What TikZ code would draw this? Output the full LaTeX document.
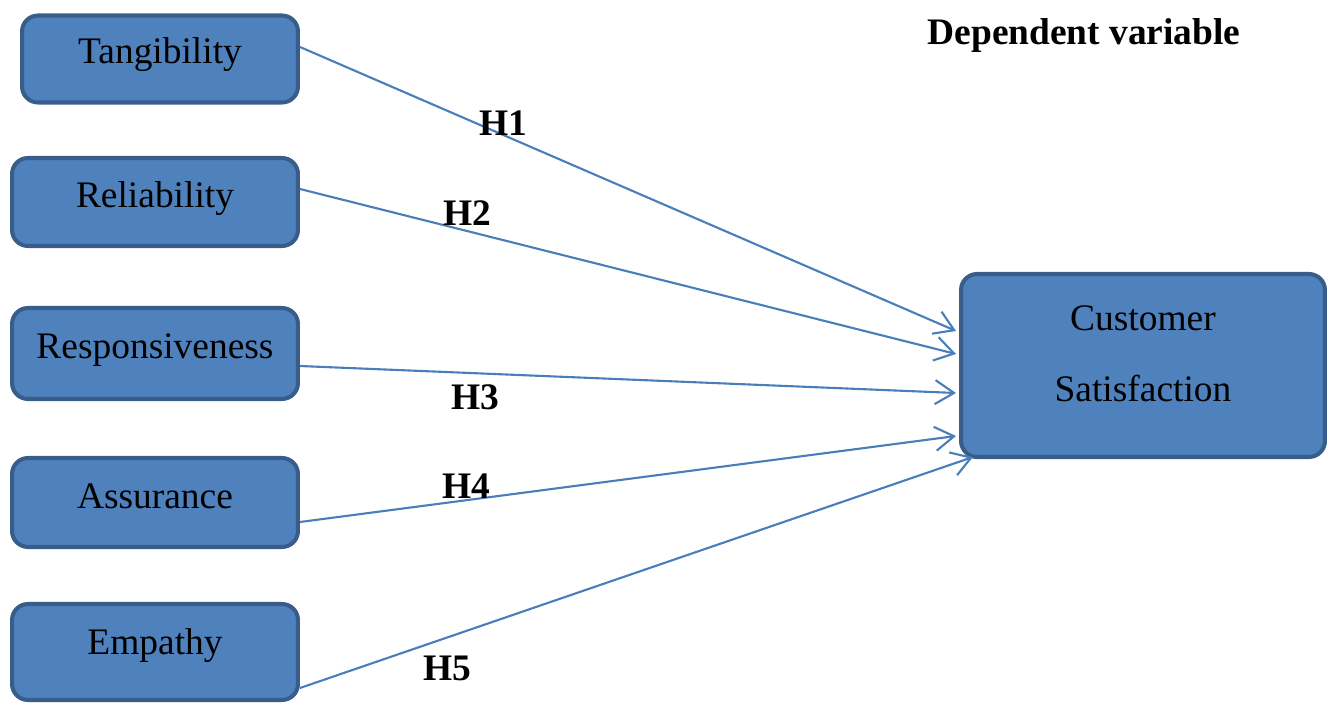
\documentclass[tikz,border=0pt]{standalone}
\usepackage{fontspec}
\setmainfont{Liberation Serif}
\usetikzlibrary{arrows.meta,calc}
\definecolor{boxfill}{HTML}{4F81BD}
\definecolor{boxline}{HTML}{385D8A}
\definecolor{arrowcol}{HTML}{4A7EBB}
\begin{document}
\begin{tikzpicture}[x=0.02cm,y=-0.02cm,
  box/.style={draw=boxline,fill=boxfill,line width=2.3pt,rounded corners=0.32cm,inner sep=0pt},
  txt/.style={anchor=base,inner sep=0pt,font=\fontsize{21.3}{24}\selectfont},
  hlab/.style={anchor=base,inner sep=0pt,font=\fontsize{21.3}{24}\selectfont\bfseries},
  conn/.style={draw=arrowcol,line width=1.2pt,-{Straight Barb[length=0.38cm,width=0.48cm,line width=1.2pt]}}]
\useasboundingbox (0,0) rectangle (1330,703);
% boxes
\node[box,minimum width=5.52cm,minimum height=1.74cm] (tang) at (160,59) {};
\node[box,minimum width=5.72cm,minimum height=1.76cm] (rel) at (155,202) {};
\node[box,minimum width=5.72cm,minimum height=1.82cm] (resp) at (155,353.5) {};
\node[box,minimum width=5.72cm,minimum height=1.78cm] (assu) at (155,502.5) {};
\node[box,minimum width=5.72cm,minimum height=1.92cm] (emp) at (155,652) {};
\node[box,minimum width=7.28cm,minimum height=3.66cm] (cs) at (1143,365.5) {};
% texts
\node[txt] (tangt) at (160,63) {Tangibility};
\node[txt] (relt) at (155,207) {Reliability};
\node[txt] (respt) at (155,358) {Responsiveness};
\node[txt] (assut) at (155,508) {Assurance};
\node[txt] (empt) at (155,654) {Empathy};
\node[txt] (cst1) at (1143,330) {Customer};
\node[txt] (cst2) at (1143,401) {Satisfaction};
\node[hlab] (dep) at (1084,45) {Dependent variable};
% connector end points
\coordinate (s1) at ($(tang.east)+(0,-12)$);
\coordinate (s2) at ($(rel.east)+(0,-13)$);
\coordinate (s3) at ($(resp.east)+(0,12.5)$);
\coordinate (s4) at ($(assu.east)+(0,19.5)$);
\coordinate (s5) at ($(emp.east)+(0,36)$);
\coordinate (e1) at ($(cs.west)+(-3,-34.5)$);
\coordinate (e2) at ($(cs.west)+(-3,-11.5)$);
\coordinate (e3) at ($(cs.west)+(-3,27.5)$);
\coordinate (e4) at ($(cs.west)+(-3,70.5)$);
\coordinate (e5) at ($(cs.west)+(14,91.5)$);
\draw[conn] (s1) -- (e1);
\draw[conn] (s2) -- (e2);
\draw[conn] (s3) -- (e3);
\draw[conn] (s4) -- (e4);
\draw[conn] (s5) -- (e5);
% hypothesis labels
\node[hlab] (h1) at (503,135) {H1};
\node[hlab] (h2) at (467,225) {H2};
\node[hlab] (h3) at (475,409) {H3};
\node[hlab] (h4) at (466,498) {H4};
\node[hlab] (h5) at (447,680) {H5};
\end{tikzpicture}
\end{document}
